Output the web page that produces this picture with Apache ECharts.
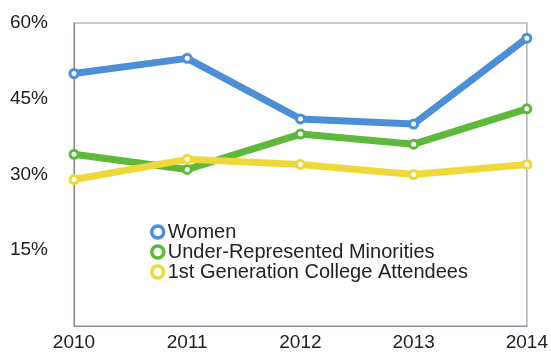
<!DOCTYPE html>
<html>
<head>
<meta charset="utf-8">
<script src="https://cdn.jsdelivr.net/npm/echarts@6/dist/echarts.min.js"></script>
<style>
html,body{margin:0;padding:0;background:#fff;}
#chart{width:551px;height:352px;}
</style>
</head>
<body>
<div id="chart"></div>
<script>
// Share of students by group, 2010–2014 (percent)
const years = ['2010', '2011', '2012', '2013', '2014'];
const women = [50, 53, 41, 40, 57];
const underRepresented = [34, 31, 38, 36, 43];
const firstGeneration = [29, 33, 32, 30, 32];
const seriesNames = ['Women', 'Under-Represented Minorities', '1st Generation College Attendees'];
const colors = ['#4d8fd6', '#5db83c', '#eed83c'];

const chart = echarts.init(document.getElementById('chart'));
const font = 'Liberation Sans, Arial, sans-serif';

function lineSeries(name, data, color) {
  return {
    name: name,
    type: 'line',
    data: data,
    symbol: 'circle',
    symbolSize: 8,
    showSymbol: true,
    lineStyle: { width: 7, color: color },
    itemStyle: { color: '#ffffff', borderColor: color, borderWidth: 3 },
    emphasis: { disabled: true },
    z: 3
  };
}

chart.setOption({
  animation: false,
  backgroundColor: '#ffffff',
  grid: { left: 74, right: 20, top: 23, bottom: 25, show: true, borderColor: '#9a9a9a', borderWidth: 1.2 },
  legend: {
    orient: 'vertical',
    left: 145,
    top: 217,
    itemGap: 0,
    itemWidth: 14,
    itemHeight: 12,
    textStyle: { fontFamily: font, fontSize: 20, color: '#222', padding: [0, 0, 0, -2] },
    data: seriesNames.map((n, i) => ({
      name: n,
      icon: 'circle',
      itemStyle: { color: '#ffffff', borderColor: colors[i], borderWidth: 3.5 }
    }))
  },
  xAxis: {
    type: 'category',
    data: years,
    boundaryGap: false,
    axisLine: { lineStyle: { color: '#8a8c9e', width: 1.2 } },
    axisTick: { show: false },
    axisLabel: { fontFamily: font, fontSize: 19, color: '#222', margin: 7 },
    splitLine: { show: false }
  },
  yAxis: {
    type: 'value',
    min: 0,
    max: 60,
    interval: 15,
    axisLine: { show: true, lineStyle: { color: '#8a8c9e', width: 1.2 } },
    axisTick: { show: false },
    axisLabel: {
      fontFamily: font, fontSize: 19, color: '#222', margin: 26,
      formatter: v => (v === 0 ? '' : v + '%')
    },
    splitLine: { show: false }
  },
  series: [
    lineSeries(seriesNames[0], women, colors[0]),
    lineSeries(seriesNames[1], underRepresented, colors[1]),
    lineSeries(seriesNames[2], firstGeneration, colors[2])
  ]
});
</script>
</body>
</html>
